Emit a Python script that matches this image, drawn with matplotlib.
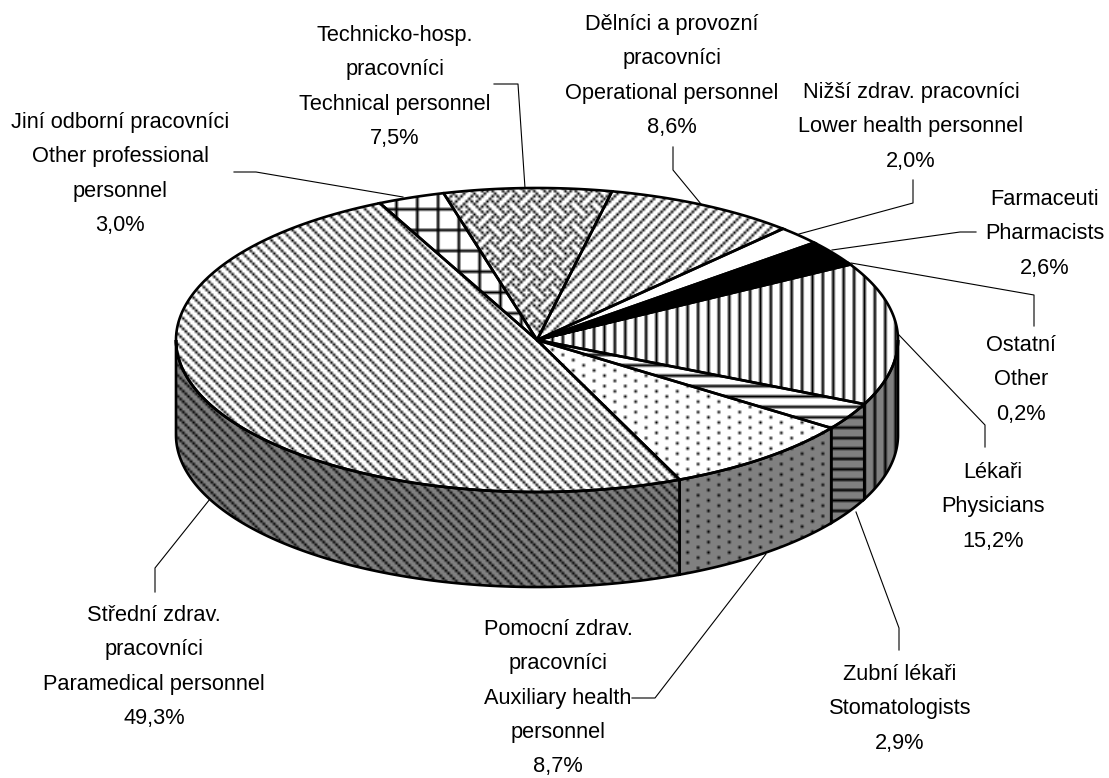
import numpy as np
import matplotlib
matplotlib.use('Agg')
import matplotlib.pyplot as plt
from matplotlib.patches import Polygon

# Shares of personnel, clockwise from the top
names = [
    ['Technicko-hosp.', 'pracovníci', 'Technical personnel'],
    ['Dělníci a provozní', 'pracovníci', 'Operational personnel'],
    ['Nižší zdrav. pracovníci', 'Lower health personnel'],
    ['Farmaceuti', 'Pharmacists'],
    ['Ostatní', 'Other'],
    ['Lékaři', 'Physicians'],
    ['Zubní lékaři', 'Stomatologists'],
    ['Pomocní zdrav.', 'pracovníci', 'Auxiliary health', 'personnel'],
    ['Střední zdrav.', 'pracovníci', 'Paramedical personnel'],
    ['Jiní odborní pracovníci', 'Other professional', 'personnel'],
]
shares = [7.5, 8.6, 2.0, 2.6, 0.2, 15.2, 2.9, 8.7, 49.3, 3.0]

# Label placement in pixels: centre x, first baseline, leader polyline
label_x = [395, 672, 911, 1045, 1021, 993, 900, 558, 154, 120]
label_y = [41, 30, 98, 205, 351, 478, 680, 635, 621, 128]
leaders = [
    [(494, 84), (518, 84), (525, 188)],
    [(673, 147), (673, 170), (701, 204)],
    [(913, 180), (913, 203), (799, 234)],
    [(976, 232), (960, 232), (832, 250)],
    [(1034, 326), (1034, 295), (851, 263)],
    [(985, 447), (985, 425), (899, 335)],
    [(899, 650), (899, 628), (856, 512)],
    [(632, 698), (655, 698), (766, 554)],
    [(155, 592), (155, 568), (210, 499)],
    [(234, 172), (256, 172), (403, 197)],
]

# Pie geometry in pixels
cx, cy, rx, ry, depth = 537, 340, 361, 152, 95
start_angle = 105
cell = 2.6
font = ['Liberation Sans Narrow', 'Liberation Sans']

# Fill patterns as small bitmaps, one per slice
weave = ['10001000', '01010100', '00100010', '01000101',
         '10001000', '00010101', '00100010', '01010001']
up_diag = ['0001', '0010', '0100', '1000']
down_diag = ['1000', '0100', '0010', '0001']
vertical = ['1000']
horizontal = ['1', '0', '0', '0']
grid = ['11111111'] + ['10000000'] * 7
dots = ['10000000', '00000000', '00001000', '00000000']
blank = ['0']
solid = ['1']
patterns = [weave, up_diag, blank, solid, blank, vertical, horizontal, dots, down_diag, grid]


def ellipse_xy(t, dy=0):
    t = np.radians(t)
    return cx + rx * np.cos(t), cy + dy - ry * np.sin(t)


def add_fill(ax, xy, bits, bg):
    patch = Polygon(xy, closed=True, facecolor=bg, edgecolor='none', zorder=2)
    ax.add_patch(patch)
    tile = np.array([[int(c) for c in row] for row in bits], dtype=float)
    if tile.max() == 0:
        return
    nrow = int(778 / cell / tile.shape[0]) + 2
    ncol = int(1109 / cell / tile.shape[1]) + 2
    arr = np.tile(tile, (nrow, ncol))
    h, w = arr.shape
    rgba = np.zeros((h, w, 4))
    rgba[..., 3] = arr
    im = ax.imshow(rgba, extent=(0, w * cell, h * cell, 0), interpolation='bilinear',
                   aspect='auto', zorder=2.1)
    im.set_clip_path(patch)


fig = plt.figure(figsize=(11.09, 7.78), dpi=100)
ax = fig.add_axes([0, 0, 1, 1])

edges = start_angle - np.cumsum([0] + shares) * 3.6

# Side wall first, only the part facing the viewer
for i in range(len(shares)):
    a0 = min(edges[i], 0)
    a1 = max(edges[i + 1], -180)
    if edges[i + 1] > 0 or a0 <= a1:
        continue
    t = np.linspace(a0, a1, 120)
    x, y = ellipse_xy(t)
    xb, yb = ellipse_xy(t, depth)
    xy = np.r_[np.c_[x, y], np.c_[xb, yb][::-1]]
    add_fill(ax, xy, patterns[i], '#808080')
    ax.add_patch(Polygon(xy, closed=True, fill=False, edgecolor='black', lw=1.9, zorder=3))

# Top face
for i in range(len(shares)):
    t = np.linspace(edges[i], edges[i + 1], max(int(shares[i] * 8), 4))
    x, y = ellipse_xy(t)
    xy = np.r_[[(cx, cy)], np.c_[x, y]]
    add_fill(ax, xy, patterns[i], 'white')
    ax.add_patch(Polygon(xy, closed=True, fill=False, edgecolor='black', lw=1.9,
                         joinstyle='miter', zorder=4))

# Leader lines and labels
for i in range(len(shares)):
    pts = np.array(leaders[i])
    ax.plot(pts[:, 0], pts[:, 1], color='black', lw=0.8, zorder=5)
    lines = names[i] + [f'{shares[i]:.1f}%'.replace('.', ',')]
    for k, line in enumerate(lines):
        ax.text(label_x[i], label_y[i] + k * 34.3, line, ha='center', va='baseline',
                family=font, fontsize=15.7, color='black', zorder=6)

ax.set_xlim(0, 1109)
ax.set_ylim(778, 0)
ax.axis('off')

plt.savefig('out.png', dpi=100)
plt.close()
